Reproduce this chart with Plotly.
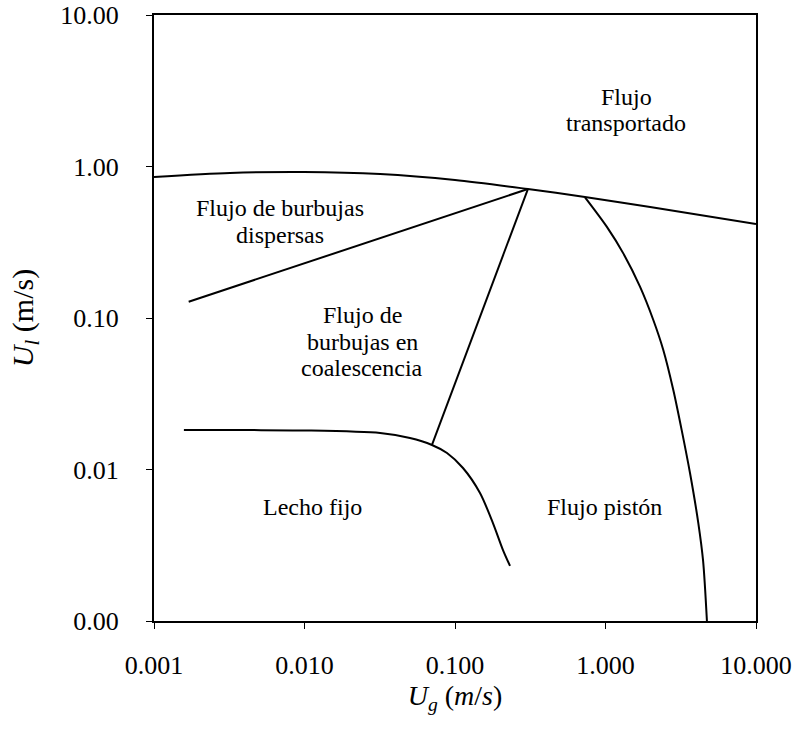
import plotly.graph_objects as go

# ---- data (m/s) ----
upper_x = [0.001, 0.0032, 0.0099, 0.0318, 0.1, 0.305, 0.73, 1.98, 10.0]
upper_y = [0.853, 0.906, 0.92, 0.892, 0.815, 0.71, 0.63, 0.54, 0.417]

disp_x = [0.0017, 0.305]
disp_y = [0.128, 0.71]

coal_x = [0.0703, 0.305]
coal_y = [0.01452, 0.71]

fixed_x = [0.00158, 0.00434, 0.01, 0.0318, 0.0502, 0.0703, 0.0885, 0.113, 0.1466, 0.1787, 0.2084, 0.232]
fixed_y = [0.01823, 0.0182, 0.0181, 0.01741, 0.01614, 0.01452, 0.01285, 0.01023, 0.0070, 0.00443, 0.00294, 0.00231]

slug_x = [0.731, 1.019, 1.313, 1.695, 2.078, 2.421, 2.822, 3.208, 3.643, 4.137, 4.45, 4.72]
slug_y = [0.626, 0.401, 0.267, 0.161, 0.097, 0.0615, 0.0335, 0.0182, 0.00948, 0.00443, 0.0025, 0.001]

x_tickvals = [0.001, 0.01, 0.1, 1, 10]
x_ticktext = ["0.001", "0.010", "0.100", "1.000", "10.000"]
y_tickvals = [0.001, 0.01, 0.1, 1, 10]
y_ticktext = ["0.00", "0.01", "0.10", "1.00", "10.00"]

# region labels: (text lines, pixel x centre, pixel y of first line)
labels = [
    (["Flujo", "transportado"], 626, 97),
    (["Flujo de burbujas", "dispersas"], 280, 208),
    (["Flujo de", "burbujas en", "coalescencia"], 362, 315),
    (["Lecho fijo"], 312, 507),
    (["Flujo pistón"], 604, 507),
]

FONT = "Times New Roman"
L, R, T, B = 154, 756, 15, 621

fig = go.Figure()
for xs, ys, shp in [(upper_x, upper_y, "spline"), (disp_x, disp_y, "linear"),
                    (coal_x, coal_y, "linear"), (fixed_x, fixed_y, "spline"),
                    (slug_x, slug_y, "spline")]:
    fig.add_trace(go.Scatter(x=xs, y=ys, mode="lines",
                             line=dict(color="black", width=2, shape=shp, smoothing=0.8),
                             showlegend=False, hoverinfo="skip"))

annotations = []
for lines, px, py in labels:
    for i, t in enumerate(lines):
        yy = py + i * 26.5
        annotations.append(dict(
            text=t, xref="paper", yref="paper",
            x=(px - L) / (R - L), y=(B - yy) / (B - T),
            xanchor="center", yanchor="middle", showarrow=False,
            font=dict(family=FONT, size=24, color="black")))

fig.update_layout(
    width=793, height=742,
    margin=dict(l=L, r=793 - R, t=T, b=742 - B, autoexpand=False),
    paper_bgcolor="white", plot_bgcolor="white",
    font=dict(family=FONT, color="black"),
    annotations=annotations,
    xaxis=dict(type="log", range=[-3, 1], tickvals=x_tickvals, ticktext=x_ticktext,
               ticks="outside", ticklen=6, tickwidth=1, tickcolor="black",
               showline=True, linecolor="black", linewidth=2, mirror=True,
               showgrid=False, zeroline=False, ticklabelstandoff=14, automargin=False,
               tickfont=dict(family=FONT, size=26, color="black"),
               title=dict(text="<i>U<sub>g</sub></i> (<i>m</i>/<i>s</i>)",
                          font=dict(family=FONT, size=28, color="black"),
                          standoff=6)),
    yaxis=dict(type="log", range=[-3, 1], tickvals=y_tickvals, ticktext=y_ticktext,
               ticks="outside", ticklen=6, tickwidth=1, tickcolor="black",
               showline=True, linecolor="black", linewidth=2, mirror=True,
               showgrid=False, zeroline=False, ticklabelstandoff=22, automargin=False,
               tickfont=dict(family=FONT, size=26, color="black"),
               title=dict(text="<i>U<sub>l</sub></i> (m/s)",
                          font=dict(family=FONT, size=30, color="black"),
                          standoff=18)),
)

fig.write_html("out.html")
